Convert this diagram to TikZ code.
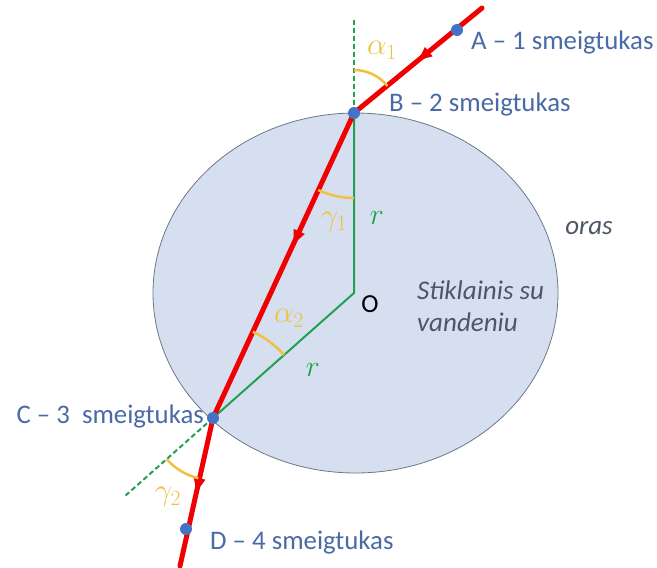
\RequirePackage{fix-cm}
\documentclass[tikz,border=0pt]{standalone}
\usepackage{fontspec}
\setmainfont{Carlito}
\usetikzlibrary{angles,decorations.markings,arrows.meta,calc}
\definecolor{rayred}{HTML}{F00000}
\definecolor{normgreen}{HTML}{22A050}
\definecolor{angyellow}{HTML}{F0C040}
\definecolor{pinblue}{HTML}{4472C4}
\definecolor{labblue}{HTML}{4A6AA5}
\definecolor{glassfill}{HTML}{D6DFF0}
\definecolor{glassedge}{HTML}{6A7888}
\definecolor{darktext}{HTML}{4D5666}
\begin{document}
\begin{tikzpicture}[x=1pt,y=-1pt,
  raystyle/.style={draw=rayred, line width=5pt, line cap=round},
  raymark/.style={postaction={decorate}, decoration={markings,
     mark=at position #1 with {\arrow[rayred]{Triangle[length=14pt,width=11pt]}}}},
  normsolid/.style={draw=normgreen, line width=2pt},
  normdash/.style={draw=normgreen, line width=2pt, dash pattern=on 5pt off 3pt},
  pindot/.style={circle, fill=pinblue, minimum size=12pt, inner sep=0pt},
  pinlabel/.style={font=\fontsize{26.8}{30}\selectfont, text=labblue, inner sep=0pt},
  anglab/.style={font=\fontsize{31}{34}\selectfont, text=angyellow, inner sep=0pt},
  rlab/.style={font=\fontsize{30}{34}\selectfont, text=normgreen, inner sep=0pt},
  arcstyle/.style={draw=angyellow, line width=2.5pt},
  darklab/.style={font=\fontsize{27}{32}\selectfont\itshape, text=darktext, inner sep=0pt}
]
\useasboundingbox (0,0) rectangle (657,568);
% glass
\draw[fill=glassfill, draw=glassedge, line width=0.8pt] (355.5,293) ellipse [x radius=202.5, y radius=180];
% points
\coordinate (Top) at (482,8);
\coordinate (A) at (457,30);
\coordinate (B) at (354,113);
\coordinate (O) at (354,293);
\coordinate (C) at (213,418);
\coordinate (D) at (186,529);
\coordinate (Bot) at (180,566);
\coordinate (N) at (354,20);
\coordinate (E) at ($(C)!-0.62!(O)$);
% normals
\draw[normdash] (B) -- (N);
\draw[normsolid] (B) -- (O) -- (C);
\draw[normdash] (C) -- (E);
% ray
\draw[raystyle, raymark=0.5] (Top) -- (B);
\draw[raystyle, raymark=0.43] (B) -- (C);
\draw[raystyle, raymark=0.5] (C) -- (Bot);
% angle arcs
\pic[arcstyle, angle radius=43pt] {angle = A--B--N};
\pic[arcstyle, angle radius=85pt] {angle = C--B--O};
\pic[arcstyle, angle radius=95pt] {angle = O--C--B};
\pic[arcstyle, angle radius=62pt] {angle = E--C--D};
% pins
\node[pindot] (pA) at (A) {};
\node[pindot] (pB) at (B) {};
\node[pindot] (pC) at (C) {};
\node[pindot] (pD) at (D) {};
% labels
\node[pinlabel, anchor=west] (tA) at (471,42) {A – 1 smeigtukas};
\node[pinlabel, anchor=west] (tB) at (389,104) {B – 2 smeigtukas};
\node[pinlabel, anchor=east] (tC) at (204,416) {C – 3\ \ smeigtukas};
\node[pinlabel, anchor=west] (tD) at (210,542) {D – 4 smeigtukas};
\node[anglab] (a1) at (382,50) {$\alpha_1$};
\node[anglab] (g1) at (334,222) {$\gamma_1$};
\node[anglab] (a2) at (289,318) {$\alpha_2$};
\node[anglab] (g2) at (168,497) {$\gamma_2$};
\node[rlab] (r1) at (377,218) {$r$};
\node[rlab] (r2) at (313,370) {$r$};
\node[font=\fontsize{26}{30}\selectfont, inner sep=0pt] (Olab) at (370,304) {O};
\node[darklab] (oras) at (589,228) {oras};
\node[darklab, anchor=west, align=left] (glass) at (417,306) {Stiklainis su\\vandeniu};
\end{tikzpicture}
\end{document}
